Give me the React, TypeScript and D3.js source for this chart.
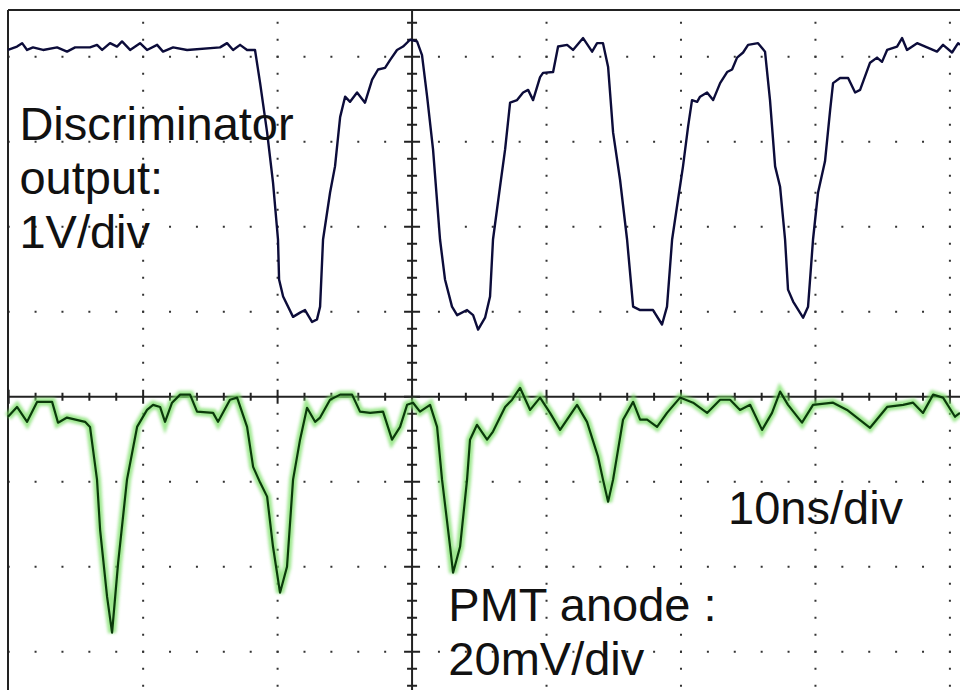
import React from "react";
import * as d3 from "d3";

// screen: 10 ns/div horizontally, divisions vertically (0 = centre axis)
const timeDivs = [-20, -10, 0, 10, 20, 30, 40];
const levelDivs = [-3, -2, -1, 0, 1, 2, 3, 4];

// channel 1: discriminator output, 1 V/div, trace offset +4.1 div
const discOffset = 4.1;
const discTime = [
  -30.05, -29.38, -29.0, -28.63, -28.19, -27.44, -26.4, -25.66, -25.06, -23.95, -23.43, -23.05,
  -22.46, -21.94, -21.57, -20.97, -20.23, -19.71, -18.96, -18.52, -17.77, -16.73, -14.28, -13.76,
  -13.31, -12.79, -12.27, -11.68, -11.3, -10.78, -10.34, -9.97, -9.89, -9.59, -8.85, -8.33, -7.96,
  -7.44, -7.07, -6.84, -6.62, -6.1, -5.73, -5.35, -4.98, -4.61, -4.09, -3.5, -2.97, -2.53, -2.01,
  -1.64, -1.12, -0.67, -0.15, 0.37, 0.74, 1.12, 1.56, 2.08, 2.45, 2.97, 3.35, 4.09, 4.54, 4.91,
  5.43, 5.8, 6.02, 6.54, 6.92, 7.29, 7.81, 8.26, 8.63, 9.0, 9.52, 9.74, 10.49, 10.86, 11.53, 11.97,
  12.72, 13.39, 13.76, 14.2, 14.58, 14.95, 15.47, 15.99, 16.44, 16.96, 17.92, 18.59, 18.96, 19.34,
  19.78, 20.15, 20.53, 20.82, 21.2, 21.42, 21.94, 22.39, 22.91, 23.43, 23.8, 24.17, 24.62, 24.99,
  25.73, 26.25, 26.62, 27.0, 27.37, 27.74, 27.96, 28.34, 29.08, 29.45, 29.82, 30.19, 30.71, 31.09,
  31.31, 31.83, 32.43, 32.95, 33.32, 34.06, 34.58, 34.95, 35.33, 36.07, 36.44, 36.81, 37.56, 38.3,
  39.04, 39.49, 40.16, 40.61, 40.75,
];
const discVolts = [
  -0.02, 0.02, 0.06, -0.02, 0.01, -0.02, 0.01, -0.04, 0.01, 0.01, 0.04, -0.02,
  0.06, 0.02, 0.08, -0.02, 0.06, -0.02, 0.04, -0.04, 0.01, -0.02, 0.01, 0.06,
  -0.02, 0.04, -0.02, -0.02, -0.41, -0.99, -1.58, -2.25, -2.72, -2.92, -3.16, -3.11, -3.08,
  -3.22, -3.19, -3.04, -2.25, -1.7, -1.39, -0.81, -0.57, -0.63, -0.52, -0.64, -0.37, -0.25, -0.23,
  -0.14, -0.02, 0.02, 0.1, 0.08, -0.08, -0.57, -1.19, -2.25, -2.72, -3.04, -3.14, -3.08, -3.14, -3.31,
  -3.17, -2.92, -2.25, -1.63, -1.19, -0.64, -0.61, -0.52, -0.49, -0.61, -0.34, -0.29, -0.28, 0.02,
  0.04, -0.02, 0.12, -0.04, 0.06, 0.06, -0.22, -0.99, -1.55, -2.25, -3.04, -3.08, -3.08, -3.25,
  -3.04, -2.25, -1.78, -1.39, -0.92, -0.61, -0.63, -0.57, -0.52, -0.61, -0.41, -0.28, -0.25, -0.11,
  -0.05, 0.04, 0.06, -0.04, -0.61, -1.39, -1.63, -2.25, -2.84, -2.98, -3.17, -3.04, -2.25, -1.7,
  -1.33, -0.73, -0.41, -0.35, -0.35, -0.52, -0.49, -0.17, -0.11, -0.16, -0.02, 0.02,
  0.12, -0.02, 0.06, 0.01, -0.04, 0.04, -0.05, 0.06, 0.04,
];

// channel 2: PMT anode, 20 mV/div, trace offset 0 div
const pmtScale = 20;
const pmtTime = [
  -30.05, -29.38, -28.63, -27.88, -26.77, -26.33, -25.66, -24.32, -23.95, -23.43, -23.2, -22.68,
  -22.31, -21.86, -21.2, -20.45, -19.71, -19.26, -18.74, -18.37, -17.85, -17.25, -16.51, -15.99,
  -14.8, -14.43, -13.54, -13.01, -12.27, -11.82, -11.3, -10.78, -10.34, -9.82, -9.3, -8.85, -8.33,
  -7.81, -7.21, -6.84, -6.1, -5.35, -4.46, -3.87, -3.12, -2.16, -1.49, -0.89, -0.37, 0.07, 0.59,
  1.34, 1.86, 2.23, 2.83, 3.05, 3.57, 4.09, 4.31, 4.83, 5.58, 6.02, 6.92, 7.44, 8.03, 8.78, 9.52,
  10.26, 11.01, 12.27, 13.01, 13.83, 14.2, 14.58, 14.95, 15.69, 16.44, 16.96, 17.48, 18.22, 18.96,
  19.93, 20.9, 21.94, 22.91, 23.65, 24.39, 25.14, 26.03, 26.77, 27.37, 27.96, 29.0, 29.82, 31.31,
  32.35, 34.06, 35.33, 36.52, 37.26, 38.0, 38.75, 39.49, 40.38, 40.75,
];
const pmtMillivolts = [
  -4.7, -2.4, -5.9, -1.2, -1.2, -6.1, -4.9, -5.9, -7.1, -19.5, -31.3, -47.1,
  -55.5, -39.1, -19.5, -7.1, -3.1, -1.9, -2.4, -5.9, -1.4, 0.5, 0.5, -3.5,
  -3.8, -5.9, -0.7, -0.2, -7.1, -16.5, -20.2, -23.5, -35.3, -46.1, -40.0, -19.5, -10.1,
  -2.6, -5.9, -4.9, -0.7, 0.5, 0.5, -3.5, -3.8, -3.5, -10.1, -7.1, -1.9, -1.4, -3.5,
  -1.9, -7.1, -19.5, -35.3, -41.4, -35.3, -19.5, -10.1, -6.6, -10.1, -8.2, -2.4, -0.7, 2.1, -3.1, -0.2,
  -3.8, -7.8, -1.9, -5.9, -14.1, -19.5, -24.7, -19.5, -5.4, -1.2, -5.4, -5.4, -7.1, -3.8,
  -0.2, -1.4, -3.8, -0.7, -0.7, -3.1, -1.9, -7.8, -3.8, 1.2, -1.9, -6.1, -1.9, -1.4,
  -3.1, -7.3, -2.4, -1.9, -1.4, -3.8, 0.5, -0.2, -4.7, -3.8,
];

const captions = [
  { lines: ["Discriminator", "output:", "1V/div"], t: -29.2, div: 3.02 },
  { lines: ["10ns/div"], t: 23.5, div: -1.5 },
  { lines: ["PMT anode :", "20mV/div"], t: 2.7, div: -2.64 },
];

const W = 960;
const H = 690;
const x = d3.scaleLinear().domain([-30.05, 40.75]).range([8, W]);
const y = d3.scaleLinear().domain([-3.45, 4.55]).range([H, 10]);

const lineGen = d3
  .line<[number, number]>()
  .x((d) => x(d[0]))
  .y((d) => y(d[1]));

export default function App() {
  const discPath = lineGen(discTime.map((t, i) => [t, discVolts[i] + discOffset]))!;
  const pmtPath = lineGen(pmtTime.map((t, i) => [t, pmtMillivolts[i] / pmtScale]))!;

  // graticule dots: every 1/5 division along each grid line
  const dots: [number, number][] = [];
  for (const lv of levelDivs) {
    if (lv === 0) continue;
    for (let t = -30; t <= 40.8; t += 2) dots.push([x(t), y(lv)]);
  }
  for (const td of timeDivs) {
    if (td === 0) continue;
    for (let v = -3.4; v <= 4.5; v += 0.2) dots.push([x(td), y(v)]);
  }

  const vTicks = d3.range(-17, 23).map((i) => i * 0.2);
  const hTicks = d3.range(-15, 21).map((i) => i * 2);

  return (
    <svg
      width={W}
      height={H}
      style={{ position: "absolute", left: 0, top: 0, background: "#fff" }}
      fontFamily="'Liberation Sans', Arial, sans-serif"
    >
      <defs>
        <filter id="glow" x="-10%" y="-10%" width="120%" height="120%">
          <feGaussianBlur stdDeviation="1.8" />
        </filter>
      </defs>
      <rect width={W} height={H} fill="#fff" />

      {/* dotted graticule */}
      <g fill="#333">
        {dots.map((d, i) => (
          <rect key={i} x={d[0] - 1} y={d[1] - 1} width={2} height={2} />
        ))}
      </g>

      {/* frame */}
      <line x1={8} y1={10} x2={W} y2={10} stroke="#222" strokeWidth={2} />
      <line x1={8} y1={10} x2={8} y2={H} stroke="#222" strokeWidth={2} />

      {/* centre axes with minor ticks */}
      <g stroke="#222" strokeWidth={2}>
        <line x1={x(0)} y1={10} x2={x(0)} y2={H} />
        <line x1={8} y1={y(0)} x2={W} y2={y(0)} />
        {vTicks.map((v, i) => {
          const major = Math.abs(v - Math.round(v)) < 1e-6;
          const len = major ? 8 : 5;
          return <line key={"v" + i} x1={x(0) - len} x2={x(0) + len} y1={y(v)} y2={y(v)} />;
        })}
        {hTicks.map((t, i) => {
          const major = t % 10 === 0;
          const len = major ? 7 : 4;
          return <line key={"h" + i} x1={x(t)} x2={x(t)} y1={y(0) - len} y2={y(0) + len} />;
        })}
      </g>

      {/* PMT anode trace with phosphor glow */}
      <path d={pmtPath} fill="none" stroke="#7ee06a" strokeWidth={8} opacity={0.75} filter="url(#glow)" />
      <path d={pmtPath} fill="none" stroke="#0b3a0b" strokeWidth={2.2} strokeLinejoin="round" />

      {/* discriminator trace */}
      <path d={discPath} fill="none" stroke="#0c0c3a" strokeWidth={2.4} strokeLinejoin="round" />

      {captions.map((c, i) => (
        <text key={i} x={x(c.t)} y={y(c.div)} fontSize={47} fill="#111">
          {c.lines.map((l, j) => (
            <tspan key={j} x={x(c.t)} dy={j === 0 ? 0 : 54}>
              {l}
            </tspan>
          ))}
        </text>
      ))}
    </svg>
  );
}
